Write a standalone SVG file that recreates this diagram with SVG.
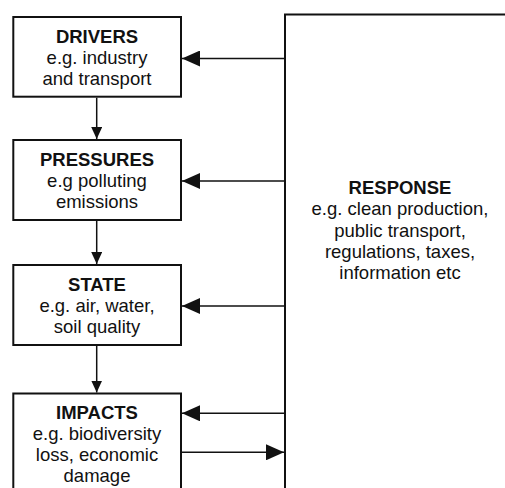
<svg xmlns="http://www.w3.org/2000/svg" width="505" height="488" viewBox="0 0 505 488">
<style>
.box{fill:#fff;stroke:#111;stroke-width:2}
.t{font-family:"Liberation Sans",Arial,sans-serif;font-size:18.5px;fill:#111;text-anchor:middle}
.b{font-weight:bold}
.c{stroke:#111;stroke-width:1.5;fill:none}
</style>
<defs>
<marker id="ah" markerUnits="userSpaceOnUse" markerWidth="18" markerHeight="16" refX="18" refY="8" orient="auto">
<path d="M0,0 L18,8 L0,16 Z" fill="#111"/>
</marker>
<marker id="av" markerUnits="userSpaceOnUse" markerWidth="12" markerHeight="11" refX="12" refY="5.5" orient="auto">
<path d="M0,0 L12,5.5 L0,11 Z" fill="#111"/>
</marker>
</defs>
<rect width="505" height="488" fill="#fff"/>
<g id="response">
<path class="box" d="M285,489 L285,14.5 L506,14.5"/>
<text class="t b" x="400" y="194">RESPONSE</text>
<text class="t" x="400" y="215.3">e.g. clean production,</text>
<text class="t" x="400" y="236.6">public transport,</text>
<text class="t" x="400" y="258">regulations, taxes,</text>
<text class="t" x="400" y="279">information etc</text>
</g>
<g id="drivers">
<rect class="box" x="13.3" y="17" width="167.7" height="79.7"/>
<text class="t b" x="97" y="43">DRIVERS</text>
<text class="t" x="97" y="64">e.g. industry</text>
<text class="t" x="97" y="85">and transport</text>
</g>
<g id="pressures">
<rect class="box" x="13.3" y="140" width="167.7" height="80"/>
<text class="t b" x="97" y="166">PRESSURES</text>
<text class="t" x="97" y="187">e.g polluting</text>
<text class="t" x="97" y="208">emissions</text>
</g>
<g id="state">
<rect class="box" x="13.3" y="265" width="167.7" height="80"/>
<text class="t b" x="97" y="291">STATE</text>
<text class="t" x="97" y="312">e.g. air, water,</text>
<text class="t" x="97" y="333">soil quality</text>
</g>
<g id="impacts">
<rect class="box" x="13.3" y="393.5" width="167.7" height="110"/>
<text class="t b" x="97" y="419">IMPACTS</text>
<text class="t" x="97" y="440">e.g. biodiversity</text>
<text class="t" x="97" y="461">loss, economic</text>
<text class="t" x="97" y="482">damage</text>
</g>
<g id="connectors">
<line class="c" x1="96.7" y1="97.7" x2="96.7" y2="139" marker-end="url(#av)"/>
<line class="c" x1="96.7" y1="221" x2="96.7" y2="264" marker-end="url(#av)"/>
<line class="c" x1="96.7" y1="346" x2="96.7" y2="392.5" marker-end="url(#av)"/>
<line class="c" x1="284" y1="58.5" x2="182" y2="58.5" marker-end="url(#ah)"/>
<line class="c" x1="284" y1="181" x2="182" y2="181" marker-end="url(#ah)"/>
<line class="c" x1="284" y1="306" x2="182" y2="306" marker-end="url(#ah)"/>
<line class="c" x1="284" y1="413.3" x2="182" y2="413.3" marker-end="url(#ah)"/>
<line class="c" x1="182" y1="452.3" x2="284" y2="452.3" marker-end="url(#ah)"/>
</g>
</svg>
